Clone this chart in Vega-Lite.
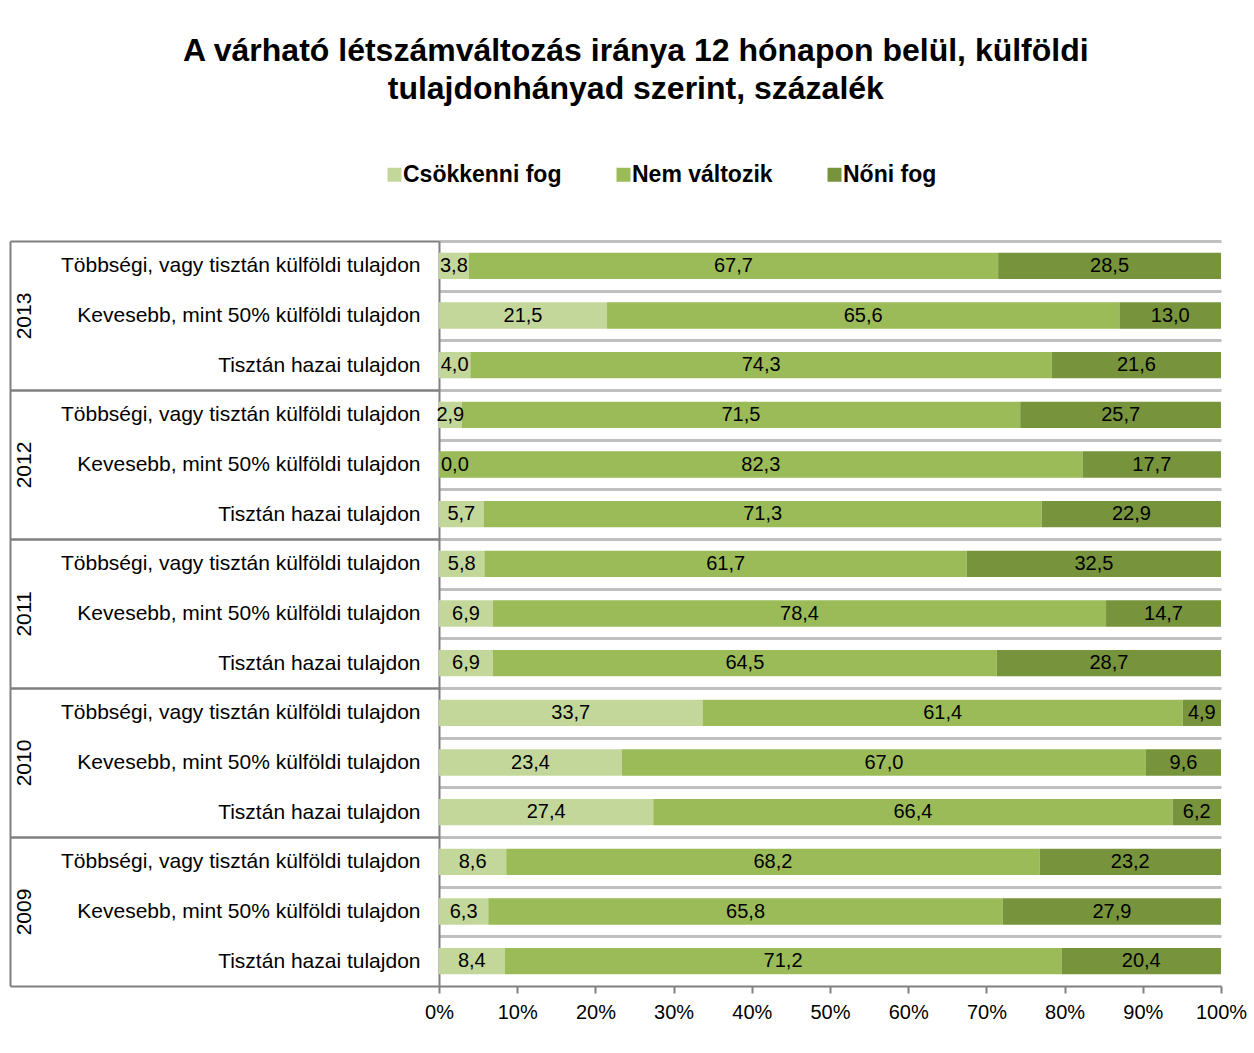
{
  "$schema": "https://vega.github.io/schema/vega-lite/v6.json",
  "width": 782,
  "height": 745,
  "autosize": {"type": "none"},
  "padding": {"left": 439, "top": 241, "right": 33, "bottom": 67},
  "background": "white",
  "title": {
    "text": ["A várható létszámváltozás iránya 12 hónapon belül, külföldi", "tulajdonhányad szerint, százalék"],
    "font": "Liberation Sans",
    "fontSize": 32,
    "fontWeight": "bold",
    "lineHeight": 38,
    "color": "black",
    "anchor": "middle",
    "frame": "bounds",
    "offset": 57,
    "dx": 8
  },
  "data": {
    "values": [
      {"key": "2013|Többségi, vagy tisztán külföldi tulajdon", "status": "Csökkenni fog", "value": 3.8},
      {"key": "2013|Többségi, vagy tisztán külföldi tulajdon", "status": "Nem változik", "value": 67.7},
      {"key": "2013|Többségi, vagy tisztán külföldi tulajdon", "status": "Nőni fog", "value": 28.5},
      {"key": "2013|Kevesebb, mint 50% külföldi tulajdon", "status": "Csökkenni fog", "value": 21.5},
      {"key": "2013|Kevesebb, mint 50% külföldi tulajdon", "status": "Nem változik", "value": 65.6},
      {"key": "2013|Kevesebb, mint 50% külföldi tulajdon", "status": "Nőni fog", "value": 13.0},
      {"key": "2013|Tisztán hazai tulajdon", "status": "Csökkenni fog", "value": 4.0},
      {"key": "2013|Tisztán hazai tulajdon", "status": "Nem változik", "value": 74.3},
      {"key": "2013|Tisztán hazai tulajdon", "status": "Nőni fog", "value": 21.6},
      {"key": "2012|Többségi, vagy tisztán külföldi tulajdon", "status": "Csökkenni fog", "value": 2.9},
      {"key": "2012|Többségi, vagy tisztán külföldi tulajdon", "status": "Nem változik", "value": 71.5},
      {"key": "2012|Többségi, vagy tisztán külföldi tulajdon", "status": "Nőni fog", "value": 25.7},
      {"key": "2012|Kevesebb, mint 50% külföldi tulajdon", "status": "Csökkenni fog", "value": 0.0},
      {"key": "2012|Kevesebb, mint 50% külföldi tulajdon", "status": "Nem változik", "value": 82.3},
      {"key": "2012|Kevesebb, mint 50% külföldi tulajdon", "status": "Nőni fog", "value": 17.7},
      {"key": "2012|Tisztán hazai tulajdon", "status": "Csökkenni fog", "value": 5.7},
      {"key": "2012|Tisztán hazai tulajdon", "status": "Nem változik", "value": 71.3},
      {"key": "2012|Tisztán hazai tulajdon", "status": "Nőni fog", "value": 22.9},
      {"key": "2011|Többségi, vagy tisztán külföldi tulajdon", "status": "Csökkenni fog", "value": 5.8},
      {"key": "2011|Többségi, vagy tisztán külföldi tulajdon", "status": "Nem változik", "value": 61.7},
      {"key": "2011|Többségi, vagy tisztán külföldi tulajdon", "status": "Nőni fog", "value": 32.5},
      {"key": "2011|Kevesebb, mint 50% külföldi tulajdon", "status": "Csökkenni fog", "value": 6.9},
      {"key": "2011|Kevesebb, mint 50% külföldi tulajdon", "status": "Nem változik", "value": 78.4},
      {"key": "2011|Kevesebb, mint 50% külföldi tulajdon", "status": "Nőni fog", "value": 14.7},
      {"key": "2011|Tisztán hazai tulajdon", "status": "Csökkenni fog", "value": 6.9},
      {"key": "2011|Tisztán hazai tulajdon", "status": "Nem változik", "value": 64.5},
      {"key": "2011|Tisztán hazai tulajdon", "status": "Nőni fog", "value": 28.7},
      {"key": "2010|Többségi, vagy tisztán külföldi tulajdon", "status": "Csökkenni fog", "value": 33.7},
      {"key": "2010|Többségi, vagy tisztán külföldi tulajdon", "status": "Nem változik", "value": 61.4},
      {"key": "2010|Többségi, vagy tisztán külföldi tulajdon", "status": "Nőni fog", "value": 4.9},
      {"key": "2010|Kevesebb, mint 50% külföldi tulajdon", "status": "Csökkenni fog", "value": 23.4},
      {"key": "2010|Kevesebb, mint 50% külföldi tulajdon", "status": "Nem változik", "value": 67.0},
      {"key": "2010|Kevesebb, mint 50% külföldi tulajdon", "status": "Nőni fog", "value": 9.6},
      {"key": "2010|Tisztán hazai tulajdon", "status": "Csökkenni fog", "value": 27.4},
      {"key": "2010|Tisztán hazai tulajdon", "status": "Nem változik", "value": 66.4},
      {"key": "2010|Tisztán hazai tulajdon", "status": "Nőni fog", "value": 6.2},
      {"key": "2009|Többségi, vagy tisztán külföldi tulajdon", "status": "Csökkenni fog", "value": 8.6},
      {"key": "2009|Többségi, vagy tisztán külföldi tulajdon", "status": "Nem változik", "value": 68.2},
      {"key": "2009|Többségi, vagy tisztán külföldi tulajdon", "status": "Nőni fog", "value": 23.2},
      {"key": "2009|Kevesebb, mint 50% külföldi tulajdon", "status": "Csökkenni fog", "value": 6.3},
      {"key": "2009|Kevesebb, mint 50% külföldi tulajdon", "status": "Nem változik", "value": 65.8},
      {"key": "2009|Kevesebb, mint 50% külföldi tulajdon", "status": "Nőni fog", "value": 27.9},
      {"key": "2009|Tisztán hazai tulajdon", "status": "Csökkenni fog", "value": 8.4},
      {"key": "2009|Tisztán hazai tulajdon", "status": "Nem változik", "value": 71.2},
      {"key": "2009|Tisztán hazai tulajdon", "status": "Nőni fog", "value": 20.4}
    ]
  },
  "resolve": {"scale": {"y": "shared", "x": "shared"}, "axis": {"y": "independent"}},
  "layer": [
    {
      "mark": {"type": "bar"},
      "encoding": {
        "y": {
          "field": "key",
          "type": "nominal",
          "sort": [
            "2013|Többségi, vagy tisztán külföldi tulajdon", "2013|Kevesebb, mint 50% külföldi tulajdon", "2013|Tisztán hazai tulajdon",
            "2012|Többségi, vagy tisztán külföldi tulajdon", "2012|Kevesebb, mint 50% külföldi tulajdon", "2012|Tisztán hazai tulajdon",
            "2011|Többségi, vagy tisztán külföldi tulajdon", "2011|Kevesebb, mint 50% külföldi tulajdon", "2011|Tisztán hazai tulajdon",
            "2010|Többségi, vagy tisztán külföldi tulajdon", "2010|Kevesebb, mint 50% külföldi tulajdon", "2010|Tisztán hazai tulajdon",
            "2009|Többségi, vagy tisztán külföldi tulajdon", "2009|Kevesebb, mint 50% külföldi tulajdon", "2009|Tisztán hazai tulajdon"
          ],
          "scale": {"paddingInner": 0.47, "paddingOuter": 0.235},
          "axis": {
            "title": null,
            "orient": "left",
            "labelExpr": "split(datum.value, '|')[1]",
            "labelFont": "Liberation Sans",
            "labelFontSize": 21,
            "labelColor": "black",
            "labelPadding": -410,
            "labelLimit": 600,
            "labelBound": false,
            "labelOverlap": false,
            "tickOffset": -24.833,
            "labelOffset": 24.833,
            "tickSize": 429,
            "tickWidth": 2,
            "tickColor": {"condition": {"test": "indexof(datum.value, 'Többségi') >= 0", "value": "#808080"}, "value": "transparent"},
            "grid": true,
            "gridColor": "#c0c0c0",
            "gridWidth": 3,
            "domainColor": "#808080",
            "domainWidth": 2
          }
        },
        "x": {
          "field": "value",
          "type": "quantitative",
          "stack": "normalize",
          "axis": {
            "title": null,
            "format": "%",
            "values": [0, 0.1, 0.2, 0.3, 0.4, 0.5, 0.6, 0.7, 0.8, 0.9, 1],
            "grid": false,
            "labelFont": "Liberation Sans",
            "labelFontSize": 20,
            "labelColor": "black",
            "labelPadding": 9,
            "labelFlush": false,
            "tickColor": "#808080",
            "tickSize": 7,
            "tickWidth": 2,
            "domainColor": "#808080",
            "domainWidth": 2
          }
        },
        "color": {
          "field": "status",
          "type": "nominal",
          "sort": ["Csökkenni fog", "Nem változik", "Nőni fog"],
          "scale": {"domain": ["Csökkenni fog", "Nem változik", "Nőni fog"], "range": ["#c4d79b", "#9bbb59", "#77933c"]},
          "legend": {
            "orient": "none",
            "legendX": -56,
            "legendY": -78,
            "direction": "horizontal",
            "title": null,
            "symbolType": "square",
            "symbolSize": 196,
            "symbolStrokeWidth": 0,
            "labelFont": "Liberation Sans",
            "labelFontSize": 23,
            "labelFontWeight": "bold",
            "labelColor": "black",
            "labelOffset": -3,
            "columnPadding": 50
          }
        },
        "order": {"field": "status", "type": "nominal"}
      }
    },
    {
      "transform": [{"filter": "datum.value > 0"}],
      "mark": {"type": "text", "font": "Liberation Sans", "fontSize": 20, "color": "black", "baseline": "middle", "align": "center"},
      "encoding": {
        "y": {
          "field": "key",
          "type": "nominal",
          "sort": [
            "2013|Többségi, vagy tisztán külföldi tulajdon", "2013|Kevesebb, mint 50% külföldi tulajdon", "2013|Tisztán hazai tulajdon",
            "2012|Többségi, vagy tisztán külföldi tulajdon", "2012|Kevesebb, mint 50% külföldi tulajdon", "2012|Tisztán hazai tulajdon",
            "2011|Többségi, vagy tisztán külföldi tulajdon", "2011|Kevesebb, mint 50% külföldi tulajdon", "2011|Tisztán hazai tulajdon",
            "2010|Többségi, vagy tisztán külföldi tulajdon", "2010|Kevesebb, mint 50% külföldi tulajdon", "2010|Tisztán hazai tulajdon",
            "2009|Többségi, vagy tisztán külföldi tulajdon", "2009|Kevesebb, mint 50% külföldi tulajdon", "2009|Tisztán hazai tulajdon"
          ],
          "axis": {
            "title": null,
            "orient": "left",
            "offset": 429,
            "values": [
              "2013|Kevesebb, mint 50% külföldi tulajdon", "2012|Kevesebb, mint 50% külföldi tulajdon",
              "2011|Kevesebb, mint 50% külföldi tulajdon", "2010|Kevesebb, mint 50% külföldi tulajdon",
              "2009|Kevesebb, mint 50% külföldi tulajdon"
            ],
            "labelExpr": "slice(datum.value, 0, 4)",
            "labelAngle": 270,
            "labelAlign": "center",
            "labelBaseline": "middle",
            "labelPadding": 415,
            "labelFont": "Liberation Sans",
            "labelFontSize": 21,
            "labelColor": "black",
            "labelBound": false,
            "labelOverlap": false,
            "ticks": true,
            "tickSize": -429,
            "tickOffset": 74.5,
            "labelOffset": -74.5,
            "tickColor": "#808080",
            "tickWidth": 2,
            "grid": false,
            "domainColor": "#808080",
            "domainWidth": 2
          }
        },
        "x": {"field": "value", "type": "quantitative", "stack": "normalize", "bandPosition": 0.5},
        "order": {"field": "status", "type": "nominal"},
        "detail": {"field": "status", "type": "nominal"},
        "text": {"field": "value", "type": "quantitative", "format": ".1f"}
      }
    },
    {
      "transform": [
        {"stack": "value", "groupby": ["key"], "sort": [{"field": "status", "order": "ascending"}], "offset": "normalize", "as": ["v0", "v1"]},
        {"filter": "datum.value == 0"}
      ],
      "mark": {"type": "text", "font": "Liberation Sans", "fontSize": 20, "color": "black", "baseline": "middle", "align": "left", "dx": 2},
      "encoding": {
        "y": {
          "field": "key",
          "type": "nominal",
          "sort": [
            "2013|Többségi, vagy tisztán külföldi tulajdon", "2013|Kevesebb, mint 50% külföldi tulajdon", "2013|Tisztán hazai tulajdon",
            "2012|Többségi, vagy tisztán külföldi tulajdon", "2012|Kevesebb, mint 50% külföldi tulajdon", "2012|Tisztán hazai tulajdon",
            "2011|Többségi, vagy tisztán külföldi tulajdon", "2011|Kevesebb, mint 50% külföldi tulajdon", "2011|Tisztán hazai tulajdon",
            "2010|Többségi, vagy tisztán külföldi tulajdon", "2010|Kevesebb, mint 50% külföldi tulajdon", "2010|Tisztán hazai tulajdon",
            "2009|Többségi, vagy tisztán külföldi tulajdon", "2009|Kevesebb, mint 50% külföldi tulajdon", "2009|Tisztán hazai tulajdon"
          ],
          "axis": null
        },
        "x": {"field": "v0", "type": "quantitative"},
        "text": {"field": "value", "type": "quantitative", "format": ".1f"}
      }
    }
  ],
  "config": {
    "view": {"stroke": null},
    "locale": {"number": {"decimal": ",", "thousands": " ", "grouping": [3], "currency": ["", ""]}}
  }
}
